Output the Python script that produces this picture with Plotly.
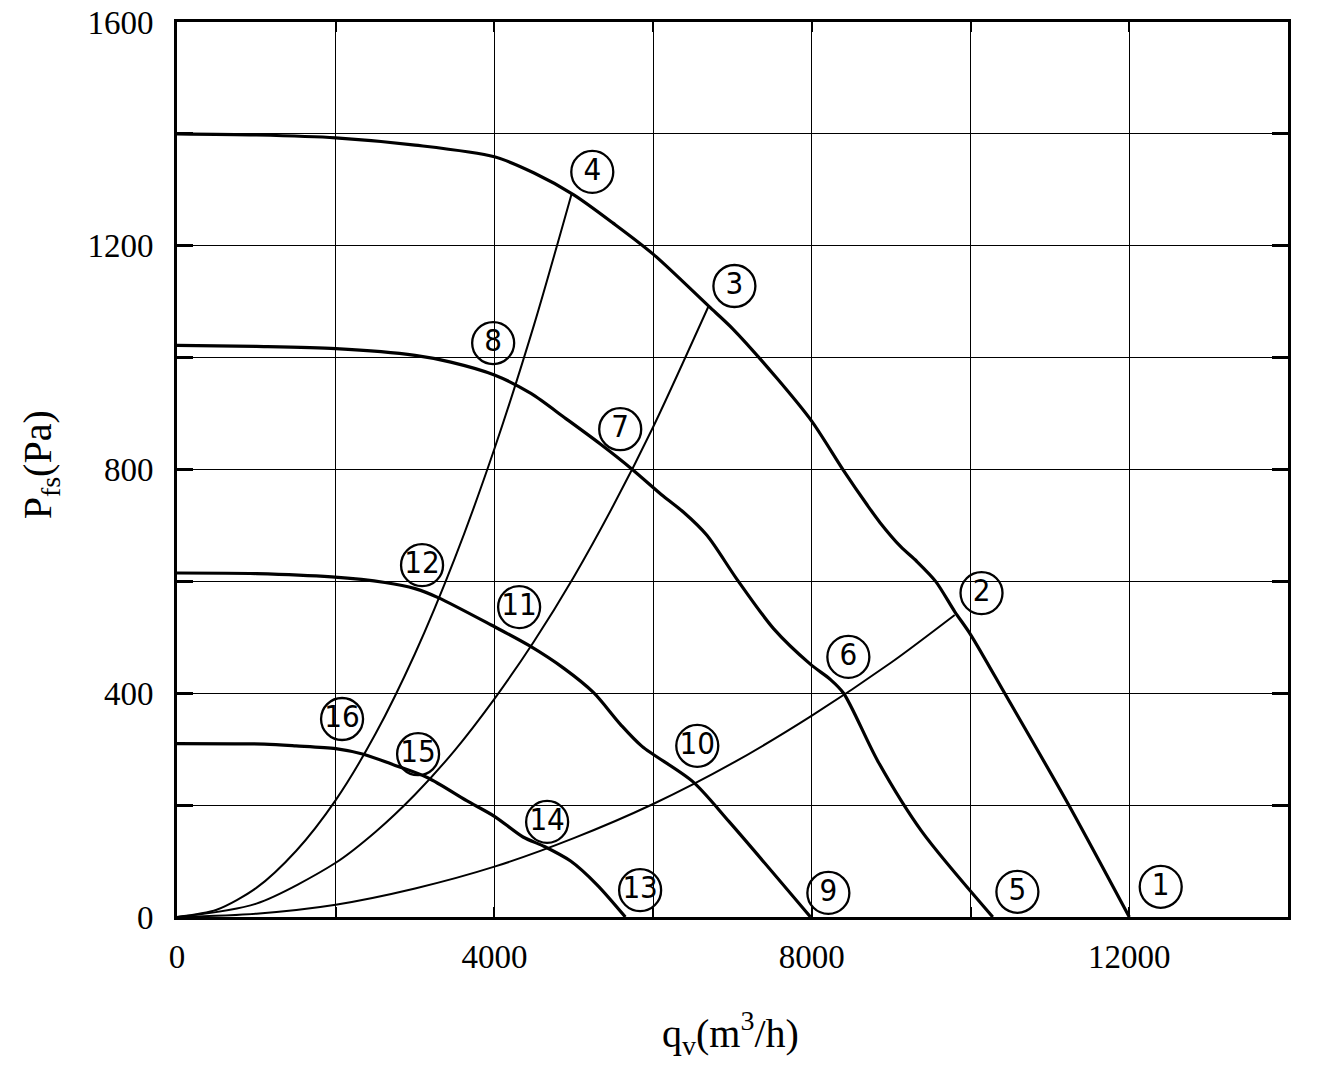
import plotly.graph_objects as go

# ---- fan curves (q_v in m3/h, P_fs in Pa) ----
q_fan1 = [0, 1000, 2000, 3000, 4000, 4500, 5000, 5500, 6000, 6700, 7000, 7560, 8000, 8400, 8700, 8860, 9120, 9320, 9560, 9800, 10000, 10450, 11230, 12000]
p_fan1 = [1400, 1398, 1393, 1380, 1359, 1330, 1291, 1240, 1185, 1092, 1052, 963, 886, 798, 736, 705, 662, 636, 600, 546, 505, 395, 202, 0]

q_fan2 = [0, 1000, 2000, 3000, 3450, 4000, 4460, 4900, 5330, 5730, 6130, 6380, 6680, 7050, 7520, 7980, 8230, 8400, 8830, 9380, 10280]
p_fan2 = [1022, 1020, 1016, 1004, 992, 969, 936, 891, 846, 801, 752, 724, 682, 605, 515, 452, 425, 400, 279, 154, 0]

q_fan3 = [0, 1000, 1950, 2620, 3000, 3290, 3960, 4440, 4880, 5250, 5590, 5860, 6500, 6960, 7983]
p_fan3 = [615, 614, 608, 598, 587, 571, 522, 485, 444, 401, 344, 305, 242, 170, 0]

q_fan4 = [0, 1100, 1500, 2000, 2350, 2750, 3160, 3650, 4000, 4360, 4630, 4960, 5290, 5650]
p_fan4 = [310, 309, 306, 301, 291, 271, 249, 208, 180, 143, 126, 100, 58, 0]

# ---- system (duct) curves ----
q_sys_a = [0, 500, 1000, 1500, 2000, 2500, 3000, 3500, 4000, 4500, 4975]
p_sys_a = [0, 13, 52, 118, 209, 327, 471, 641, 837, 1059, 1294]

q_sys_b = [0, 1000, 2000, 2500, 3000, 3500, 4000, 4500, 5000, 5500, 6000, 6695]
p_sys_b = [0, 24, 97, 152, 219, 298, 390, 493, 608, 736, 876, 1091]

q_sys_c = [0, 1000, 2000, 3000, 4000, 5000, 6000, 7000, 8000, 9000, 9800]
p_sys_c = [0, 6, 22, 51, 90, 141, 202, 275, 360, 455, 540]

# ---- circled point labels ----
label_text = ["1", "2", "3", "4", "5", "6", "7", "8", "9", "10", "11", "12", "13", "14", "15", "16"]
label_q = [12396, 10138, 7024, 5233, 10590, 8460, 5585, 3984, 8208, 6556, 4311, 3088, 5836, 4664, 3038, 2080]
label_p = [54, 579, 1128, 1332, 45, 465, 872, 1026, 43, 306, 554, 629, 48, 170, 291, 354]

# ---- axis ticks ----
x_tickvals = [0, 4000, 8000, 12000]
x_ticktext = ["0", "4000", "8000", "12000"]
y_tickvals = [0, 400, 800, 1200, 1600]
y_ticktext = ["0", "400", "800", "1200", "1600"]

fig = go.Figure()

for q, p in [(q_sys_a, p_sys_a), (q_sys_b, p_sys_b), (q_sys_c, p_sys_c)]:
    fig.add_trace(go.Scatter(x=q, y=p, mode="lines", line=dict(color="black", width=2, shape="spline", smoothing=0.8),
                             hoverinfo="skip", showlegend=False))

for q, p in [(q_fan1, p_fan1), (q_fan2, p_fan2), (q_fan3, p_fan3), (q_fan4, p_fan4)]:
    fig.add_trace(go.Scatter(x=q, y=p, mode="lines", line=dict(color="black", width=3.2, shape="spline", smoothing=0.8),
                             hoverinfo="skip", showlegend=False))

fig.add_trace(go.Scatter(
    x=label_q, y=label_p, mode="markers+text", text=label_text, textposition="middle center",
    marker=dict(symbol="circle-open", size=42, color="black", line=dict(width=2.3, color="black")),
    textfont=dict(family="Liberation Sans Narrow, DejaVu Sans Condensed, Roboto Condensed, Roboto, sans-serif",
                  size=31, color="black"),
    hoverinfo="skip", showlegend=False, cliponaxis=False))

axis_common = dict(showline=True, linewidth=3, linecolor="black", mirror="allticks",
                   showgrid=True, gridcolor="black", gridwidth=1.4, zeroline=False, automargin=False,
                   tickfont=dict(family="Liberation Serif, Times New Roman, serif", size=33, color="black"))

fig.update_xaxes(range=[0, 14000], tickmode="array", tickvals=x_tickvals, ticktext=x_ticktext,
                 ticks="inside", ticklen=10, tickwidth=2, tickcolor="black", ticklabelstandoff=8,
                 minor=dict(dtick=2000, tick0=0, showgrid=True, gridcolor="black", gridwidth=1.4,
                            ticks="inside", ticklen=10, tickwidth=2, tickcolor="black"),
                 **axis_common)
fig.update_yaxes(range=[0, 1600], tickmode="array", tickvals=y_tickvals, ticktext=y_ticktext,
                 ticks="inside", ticklen=16, tickwidth=2.5, tickcolor="black", ticklabelstandoff=14,
                 minor=dict(dtick=200, tick0=0, showgrid=True, gridcolor="black", gridwidth=1.4,
                            ticks="inside", ticklen=16, tickwidth=2.5, tickcolor="black"),
                 **axis_common)

fig.add_annotation(text="P<sub>fs</sub>(Pa)", xref="paper", yref="paper", x=-0.123, y=0.505,
                   textangle=-90, showarrow=False, xanchor="center", yanchor="middle",
                   font=dict(family="Liberation Serif, Times New Roman, serif", size=40, color="black"))
fig.add_annotation(text="q<sub>v</sub>(m<sup>3</sup>/h)", xref="paper", yref="paper", x=0.4986, y=-0.13,
                   showarrow=False, xanchor="center", yanchor="middle",
                   font=dict(family="Liberation Serif, Times New Roman, serif", size=40, color="black"))

fig.update_layout(width=1331, height=1069, margin=dict(l=177, r=43, t=22, b=152),
                  plot_bgcolor="white", paper_bgcolor="white", showlegend=False)

fig.write_html("out.html")
